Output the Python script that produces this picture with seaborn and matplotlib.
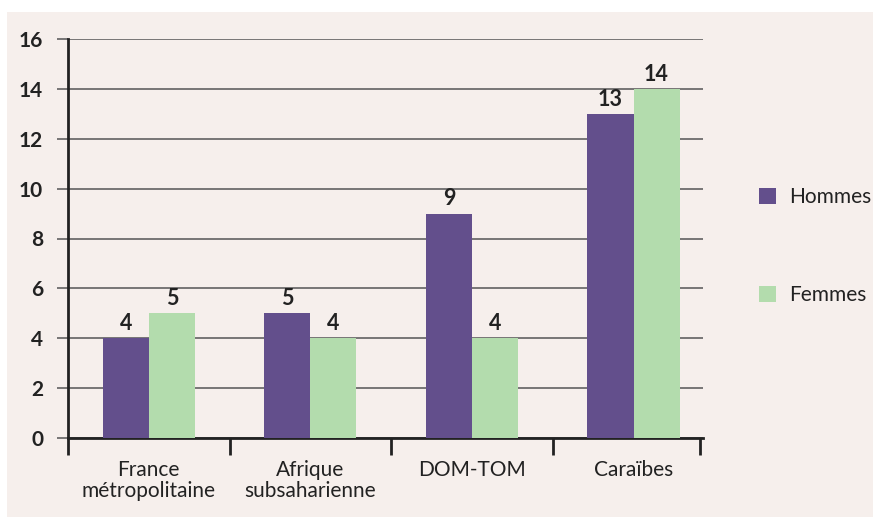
import numpy as np
import pandas as pd
import matplotlib.pyplot as plt
from matplotlib.patches import Rectangle
import seaborn as sns

# ----- Data -----
categories = ['France\nmétropolitaine', 'Afrique\nsubsaharienne', 'DOM-TOM', 'Caraïbes']
hommes = [4, 5, 9, 13]
femmes = [5, 4, 4, 14]
series = ['Hommes', 'Femmes']
y_ticks = [0, 2, 4, 6, 8, 10, 12, 14, 16]

df = pd.DataFrame({
    'region': categories * 2,
    'sexe': [series[0]] * 4 + [series[1]] * 4,
    'valeur': hommes + femmes,
})

# ----- Style -----
sns.set_theme(style='white')
plt.rcParams['font.family'] = ['Lato', 'DejaVu Sans']
bg = '#f6efec'
txt = '#222222'
palette = {'Hommes': '#634f8c', 'Femmes': '#b3dcad'}
fs = 15

fig = plt.figure(figsize=(8.73, 5.17), dpi=100)
fig.patch.set_facecolor('white')
fig.patches.append(Rectangle((7 / 873, 0), 1, (517 - 12) / 517,
                             transform=fig.transFigure, facecolor=bg,
                             edgecolor='none', zorder=-10))
ax = fig.add_axes([68 / 873, 1 - 438 / 517, (703 - 68) / 873, (438 - 39) / 517])
ax.set_facecolor(bg)

sns.barplot(data=df, x='region', y='valeur', hue='sexe', palette=palette,
            width=0.57, saturation=1, linewidth=0, ax=ax, legend=True, zorder=3)

# value labels above bars
for cont in ax.containers:
    ax.bar_label(cont, fmt='%d', padding=3, fontsize=fs + 0.5, fontweight='bold',
                 color=txt)

# ----- Axes -----
x_right = 3.43
ax.set_ylim(0, 16)
ax.set_xlim(-0.5, x_right)
ax.set_yticks(y_ticks)
ax.set_yticklabels([str(t) for t in y_ticks], fontsize=fs, fontweight='bold',
                   color=txt)
ax.yaxis.grid(True, color='#555555', linewidth=1.1, zorder=0)
ax.set_axisbelow(True)
ax.tick_params(axis='y', length=8, width=1.1, color='#555555', pad=10, left=True)

# categories at centres, separator ticks at boundaries
ax.set_xticks(range(len(categories)))
ax.set_xticklabels(categories, fontsize=fs, color=txt, linespacing=1.05)
ax.tick_params(axis='x', length=0, pad=16)
ax.set_xticks([-0.5, 0.5, 1.5, 2.5, x_right - 0.02], minor=True)
ax.tick_params(axis='x', which='minor', length=12, width=2, color=txt,
               bottom=True)

ax.set_xlabel('')
ax.set_ylabel('')
for s in ['top', 'right']:
    ax.spines[s].set_visible(False)
for s in ['left', 'bottom']:
    ax.spines[s].set_color(txt)
    ax.spines[s].set_linewidth(2)

# legend on the right
handles, labels = ax.get_legend_handles_labels()
ax.legend(handles, labels, loc='center left', bbox_to_anchor=(759 / 873, 1 - 246 / 517),
          bbox_transform=fig.transFigure, borderpad=0, borderaxespad=0,
          frameon=False, fontsize=fs, handlelength=0.82, handleheight=0.82,
          labelspacing=3.75, handletextpad=0.63, labelcolor=txt)

fig.savefig('out.png', dpi=100, facecolor=fig.get_facecolor())
